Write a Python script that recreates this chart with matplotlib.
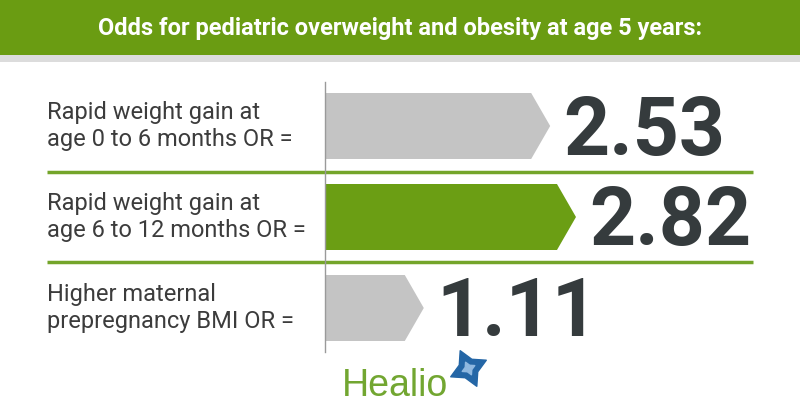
import matplotlib.pyplot as plt
from matplotlib.patches import Polygon, Rectangle
from matplotlib.transforms import blended_transform_factory

# данные
labels = ['Rapid weight gain at\nage 0 to 6 months OR =',
          'Rapid weight gain at\nage 6 to 12 months OR =',
          'Higher maternal\nprepregnancy BMI OR =']
values = [2.53, 2.82, 1.11]
value_text = ['2.53', '2.82', '1.11']
bar_colors = ['#c4c4c4', '#6b9e14', '#c4c4c4']

title = 'Odds for pediatric overweight and obesity at age 5 years:'

green = '#6a9c12'
dark = '#353b3d'

plt.rcParams['font.family'] = ['Roboto', 'DejaVu Sans']

fig = plt.figure(figsize=(8, 4.2), dpi=100)

# фон в пикселях
bg = fig.add_axes([0, 0, 1, 1])
bg.set_xlim(0, 800)
bg.set_ylim(420, 0)
bg.axis('off')

bg.add_patch(Rectangle((0, 0), 800, 55, color=green, lw=0))
bg.add_patch(Rectangle((0, 55), 800, 7, color='#dcdcdc', lw=0))
bg.text(400, 29, title, ha='center', va='center', color='white',
        fontsize=17, fontweight='bold',
        family=['Liberation Sans Narrow', 'Roboto', 'DejaVu Sans'])

# разделители
for y in [172, 262]:
    bg.plot([47, 753], [y, y], color='#74a52a', lw=2.5, solid_capstyle='butt')

# логотип
bg.text(342, 396, 'Healio', ha='left', va='baseline', color='#72a631',
        fontsize=27, family=['Liberation Sans', 'DejaVu Sans'])
bg.scatter([468], [368], marker=(4, 1, 25), s=800, color='#2466a6', zorder=5)
bg.scatter([468], [368], marker=(4, 1, 25), s=100, color='#8fb8e0', zorder=6)

# основной график
x0, x1 = 325, 800
y_top, y_bot = 82, 352
px_per_unit = 89.0
px_per_row = 91.0
c0 = 126
ax = fig.add_axes([x0 / 800, 1 - y_bot / 420, (x1 - x0) / 800, (y_bot - y_top) / 420])
ax.set_xlim(0, (x1 - x0) / px_per_unit)
ax.set_ylim((y_bot - c0) / px_per_row, -(c0 - y_top) / px_per_row)
ax.axis('off')

h = 66 / px_per_row
d = 19 / px_per_unit
for i, (v, c) in enumerate(zip(values, bar_colors)):
    pts = [(0, i - h / 2), (v - d, i - h / 2), (v, i), (v - d, i + h / 2), (0, i + h / 2)]
    ax.add_patch(Polygon(pts, closed=True, color=c, lw=0))
    ax.text(v + 13 / px_per_unit, i + 28.5 / px_per_row, value_text[i],
            ha='left', va='baseline', color=dark, fontsize=58, fontweight='bold')

ax.plot([0, 0], [ax.get_ylim()[0], ax.get_ylim()[1]], color='#9a9a9a', lw=1, clip_on=False)

tr = blended_transform_factory(bg.transData, ax.transData)
for i, lab in enumerate(labels):
    ax.text(47, i, lab, transform=tr, ha='left', va='center', color='#3c3c3c',
            fontsize=17, linespacing=1.25)

fig.savefig('out.png', dpi=100)
